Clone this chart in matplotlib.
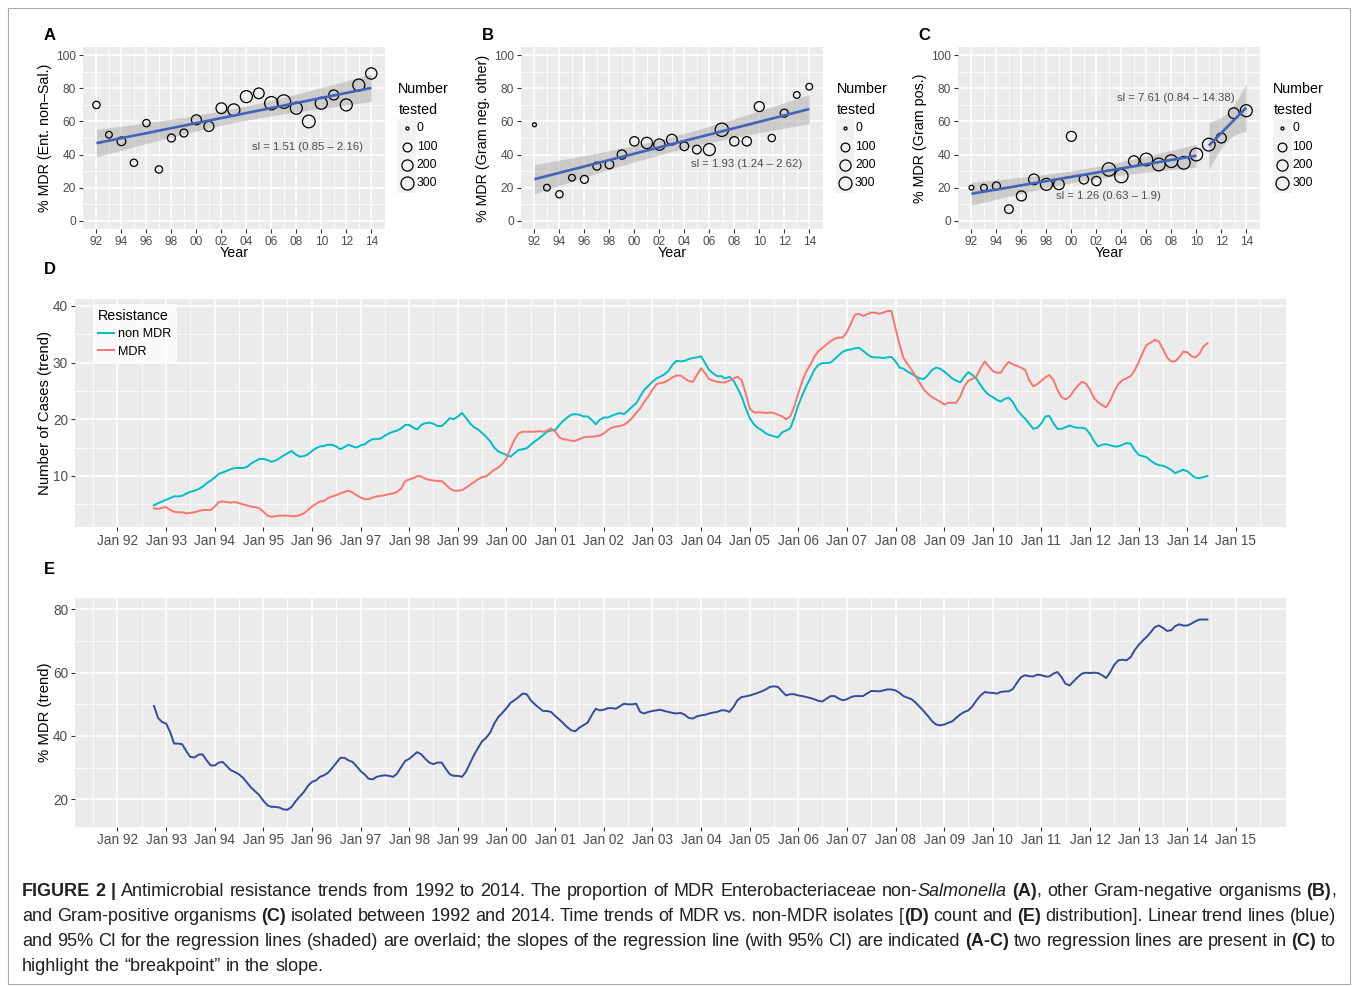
import numpy as np
import pandas as pd
import matplotlib
matplotlib.use('Agg')
import matplotlib.pyplot as plt
import matplotlib.dates as mdates
from matplotlib.lines import Line2D
from matplotlib.patches import Rectangle

plt.rcParams['font.family'] = ['Liberation Sans', 'DejaVu Sans']

# ---- panels A-C: yearly % MDR and number tested ----
years = list(range(1992, 2015))
mdr_ent = [70, 52, 48, 35, 59, 31, 50, 53, 61, 57, 68, 67, 75, 77, 71, 72, 68, 60, 71, 76, 70, 82, 89]
n_ent = [56, 41, 97, 56, 56, 56, 75, 75, 147, 147, 177, 243, 243, 177, 320, 330, 243, 282, 243, 147, 243, 243, 207]
mdr_gneg = [58, 20, 16, 26, 25, 33, 34, 40, 48, 47, 46, 49, 45, 43, 43, 55, 48, 48, 69, 50, 65, 76, 81]
n_gneg = [3, 41, 56, 41, 75, 75, 97, 120, 120, 207, 207, 177, 97, 97, 243, 320, 120, 120, 147, 56, 75, 41, 41]
mdr_gpos = [20, 20, 21, 7, 15, 25, 22, 22, 51, 25, 24, 31, 27, 36, 37, 34, 36, 35, 40, 46, 50, 65, 66.5]
n_gpos = [9, 41, 75, 97, 147, 177, 243, 177, 147, 120, 120, 320, 320, 177, 282, 282, 282, 282, 282, 282, 147, 177, 243]
size_breaks = [0, 100, 200, 300]
fits_ent = [(1992, 2014)]
fits_gneg = [(1992, 2014)]
fits_gpos = [(1992, 2010), (2011, 2014)]
slopes_ent = ['sl = 1.51 (0.85 – 2.16)']
slopes_gneg = ['sl = 1.93 (1.24 – 2.62)']
slopes_gpos = ['sl = 1.26 (0.63 – 1.9)', 'sl = 7.61 (0.84 – 14.38)']

# ---- panels D-E: monthly trends, Oct 1992 - Jun 2014 ----
non_mdr = [
    4.8, 5.2, 5.5,
    5.8, 6.1, 6.4, 6.4, 6.5, 6.9, 7.2, 7.4, 7.7, 8.1, 8.7, 9.2,
    9.7, 10.4, 10.6, 10.9, 11.2, 11.4, 11.4, 11.4, 11.6, 12.2, 12.6, 13.0,
    13.0, 12.8, 12.5, 12.7, 13.1, 13.6, 14.0, 14.4, 13.8, 13.4, 13.5, 13.8,
    14.4, 14.9, 15.2, 15.3, 15.5, 15.5, 15.2, 14.7, 15.1, 15.5, 15.2, 15.0,
    15.4, 15.6, 16.1, 16.5, 16.5, 16.6, 17.1, 17.5, 17.8, 18.0, 18.4, 19.0,
    19.0, 18.5, 18.2, 19.0, 19.3, 19.4, 19.2, 18.8, 18.8, 19.4, 20.2, 20.0,
    20.5, 21.1, 20.3, 19.3, 18.6, 18.2, 17.6, 16.9, 16.1, 15.0, 14.3, 14.0,
    13.7, 13.4, 14.0, 14.6, 14.7, 14.9, 15.5, 16.1, 16.6, 17.2, 17.8, 18.0,
    18.1, 19.0, 19.7, 20.3, 20.8, 20.9, 20.8, 20.5, 20.5, 19.9, 19.1, 19.9,
    20.3, 20.3, 20.6, 20.9, 21.1, 20.9, 21.5, 22.2, 22.8, 24.0, 25.2, 25.9,
    26.6, 27.2, 27.5, 27.9, 28.5, 29.6, 30.3, 30.2, 30.3, 30.6, 30.8, 30.9,
    31.1, 29.9, 28.7, 28.1, 27.6, 27.6, 27.2, 27.5, 26.8, 25.5, 24.0, 22.0,
    20.2, 19.1, 18.5, 18.1, 17.5, 17.2, 17.0, 16.8, 17.7, 18.0, 18.4, 20.2,
    22.5, 24.3, 25.8, 27.2, 28.7, 29.6, 29.9, 29.9, 30.0, 30.6, 31.3, 31.9,
    32.2, 32.3, 32.5, 32.6, 32.1, 31.5, 31.0, 30.9, 30.9, 30.8, 30.9, 31.0,
    30.2, 29.1, 28.9, 28.4, 28.0, 27.6, 27.2, 27.1, 27.8, 28.7, 29.1, 28.9,
    28.4, 27.8, 27.2, 26.8, 26.5, 27.5, 28.3, 27.8, 27.1, 26.0, 25.0, 24.3,
    23.9, 23.4, 23.1, 23.6, 23.8, 23.0, 21.7, 20.8, 20.1, 19.2, 18.3, 18.5,
    19.3, 20.5, 20.6, 19.3, 18.3, 18.3, 18.6, 18.9, 18.6, 18.5, 18.5, 18.3,
    17.4, 16.1, 15.2, 15.5, 15.6, 15.4, 15.2, 15.2, 15.5, 15.8, 15.7, 14.6,
    13.7, 13.5, 13.3, 12.7, 12.2, 11.9, 11.8, 11.5, 11.1, 10.5, 10.8, 11.1,
    10.8, 10.2, 9.7, 9.6, 9.8, 10.0,
]
mdr = [
    4.3, 4.2, 4.4,
    4.5, 4.0, 3.7, 3.6, 3.6, 3.4, 3.5, 3.6, 3.8, 4.0, 4.0, 4.0,
    4.6, 5.4, 5.5, 5.4, 5.3, 5.4, 5.2, 5.0, 4.8, 4.6, 4.5, 4.3,
    3.7, 3.0, 2.8, 2.9, 3.0, 3.0, 3.0, 2.9, 2.9, 3.1, 3.4, 4.0,
    4.6, 5.1, 5.5, 5.6, 6.1, 6.4, 6.6, 6.9, 7.2, 7.4, 7.1, 6.6,
    6.2, 5.9, 5.9, 6.2, 6.4, 6.5, 6.6, 6.8, 6.9, 7.2, 7.8, 9.1,
    9.4, 9.6, 10.0, 9.9, 9.5, 9.3, 9.2, 9.1, 9.1, 8.5, 7.8, 7.4,
    7.4, 7.5, 7.9, 8.4, 8.9, 9.4, 9.8, 9.9, 10.5, 11.1, 11.5, 12.1,
    13.1, 14.9, 16.4, 17.5, 17.8, 17.8, 17.8, 17.8, 17.9, 17.8, 18.0, 18.4,
    17.8, 16.8, 16.5, 16.4, 16.2, 16.2, 16.5, 16.8, 16.9, 16.9, 17.0, 17.1,
    17.5, 18.1, 18.5, 18.7, 18.8, 19.0, 19.5, 20.2, 21.1, 21.9, 23.1, 24.0,
    25.2, 26.2, 26.4, 26.5, 26.9, 27.4, 27.7, 27.7, 27.2, 26.7, 26.6, 27.8,
    29.0, 28.1, 27.1, 26.8, 26.6, 26.5, 26.5, 26.8, 27.2, 27.5, 26.9, 24.6,
    21.9, 21.2, 21.2, 21.2, 21.1, 21.2, 21.1, 20.8, 20.5, 20.0, 20.5, 22.2,
    24.6, 26.8, 28.4, 29.6, 31.0, 32.0, 32.6, 33.2, 33.8, 34.2, 34.4, 34.4,
    35.4, 36.9, 38.4, 38.6, 38.2, 38.5, 38.8, 38.8, 38.6, 38.8, 39.1, 39.1,
    36.0, 33.1, 30.8, 29.7, 28.7, 27.5, 26.4, 25.2, 24.5, 23.9, 23.5, 23.1,
    22.6, 22.9, 22.9, 22.9, 24.0, 25.8, 26.8, 27.1, 27.6, 29.0, 30.2, 29.3,
    28.5, 28.2, 28.2, 29.3, 30.1, 29.7, 29.4, 29.1, 28.7, 26.9, 25.8, 26.2,
    26.8, 27.4, 27.8, 26.9, 25.2, 23.9, 23.5, 24.0, 25.0, 25.9, 26.6, 26.3,
    25.2, 23.7, 23.0, 22.5, 22.1, 23.3, 24.9, 26.2, 26.9, 27.2, 27.6, 28.6,
    30.1, 31.8, 33.1, 33.5, 34.0, 33.7, 32.4, 30.9, 30.2, 30.2, 30.9, 31.9,
    31.8, 31.1, 30.9, 31.5, 32.8, 33.4,
]
pct_mdr = [
    49.5, 45.7, 44.4,
    43.9, 41.1, 37.6, 37.6, 37.4, 35.2, 33.4, 33.2, 34.1, 34.2, 32.3, 30.7,
    30.7, 31.6, 31.8, 30.5, 29.2, 28.6, 27.9, 26.8, 25.2, 23.7, 22.5, 21.3,
    19.5, 18.1, 17.6, 17.6, 17.4, 16.8, 16.7, 17.6, 19.4, 20.9, 22.3, 24.2,
    25.5, 26.0, 27.1, 27.6, 28.4, 29.9, 31.5, 33.1, 33.1, 32.3, 31.8, 30.4,
    28.9, 27.8, 26.5, 26.3, 27.1, 27.4, 27.6, 27.4, 27.1, 28.1, 30.2, 32.1,
    32.8, 33.9, 34.9, 34.2, 32.8, 31.6, 31.1, 31.6, 31.6, 29.7, 27.9, 27.4,
    27.4, 27.1, 28.6, 31.3, 33.9, 36.2, 38.3, 39.4, 41.1, 43.9, 46.0, 47.3,
    48.8, 50.5, 51.3, 52.3, 53.4, 53.2, 51.3, 50.0, 48.9, 47.9, 47.9, 47.6,
    46.3, 45.2, 44.1, 42.8, 41.8, 41.5, 42.6, 43.4, 44.2, 46.5, 48.6, 48.1,
    48.3, 48.8, 48.8, 48.6, 49.4, 50.2, 50.0, 50.0, 50.2, 47.6, 47.1, 47.6,
    47.9, 48.1, 48.3, 47.9, 47.6, 47.3, 47.1, 47.3, 46.7, 45.7, 45.5, 46.2,
    46.5, 46.7, 47.1, 47.4, 47.6, 48.1, 48.1, 47.6, 49.2, 51.3, 52.3, 52.5,
    52.8, 53.2, 53.6, 54.1, 54.7, 55.5, 55.7, 55.5, 54.1, 52.8, 53.2, 53.2,
    52.8, 52.6, 52.3, 52.0, 51.6, 51.1, 50.9, 51.8, 52.6, 52.6, 51.8, 51.3,
    51.6, 52.3, 52.6, 52.6, 52.6, 53.4, 54.2, 54.2, 54.1, 54.4, 54.7, 54.7,
    54.4, 53.6, 52.6, 52.1, 51.6, 50.5, 49.2, 47.8, 46.3, 44.7, 43.6, 43.4,
    43.6, 44.2, 44.6, 45.7, 46.8, 47.6, 48.1, 49.4, 51.3, 52.8, 53.9, 53.7,
    53.6, 53.4, 53.9, 54.1, 54.1, 54.9, 56.8, 58.6, 59.2, 58.9, 58.8, 59.4,
    59.2, 58.8, 58.8, 59.7, 60.2, 58.6, 56.5, 56.0, 57.3, 58.6, 59.7, 60.0,
    59.9, 60.0, 59.9, 59.2, 58.3, 60.2, 62.5, 63.9, 64.1, 63.9, 64.9, 67.1,
    68.8, 70.2, 71.3, 72.8, 74.4, 74.9, 74.2, 73.2, 73.4, 74.7, 75.3, 74.9,
    74.9, 75.5, 76.2, 76.8, 76.8, 76.8,
]
dates = pd.date_range('1992-10-01', periods=len(non_mdr), freq='MS')
year_ticks = pd.date_range('1992-01-01', '2015-01-01', freq='YS')

W, H = 1357, 986
BLUE = '#4463B8'
TEAL = '#00BFC4'
RED = '#F8766D'
T975 = {21: 2.080, 17: 2.110, 2: 4.303}  # t quantiles for the CI


def box(l, t, r, b):
    return [l / W, 1 - b / H, (r - l) / W, (b - t) / H]


def fx(x):
    return x / W


def fy(y):
    return 1 - y / H


def diam(n):
    # ggplot area scale: 0 -> 3 px, 300 -> 13 px
    return 3 + 10 * np.sqrt(np.asarray(n, float) / 300)


def gg(ax, tick_size):
    ax.set_facecolor('#EBEBEB')
    for s in ax.spines.values():
        s.set_visible(False)
    ax.grid(which='major', color='white', lw=1.1)
    ax.grid(which='minor', color='white', lw=0.55)
    ax.set_axisbelow(True)
    ax.tick_params(which='major', length=3, width=0.8, color='#333333',
                   labelcolor='#4D4D4D', labelsize=tick_size, pad=2)
    ax.tick_params(which='minor', length=0)


def add_fit(ax, x, y, lo, hi):
    x = np.asarray(x, float)
    y = np.asarray(y, float)
    m = (x >= lo) & (x <= hi)
    xs, ys = x[m], y[m]
    b, a = np.polyfit(xs, ys, 1)
    n = len(xs)
    s = np.sqrt(((ys - (a + b * xs)) ** 2).sum() / (n - 2))
    xx = np.linspace(lo, hi, 80)
    se = s * np.sqrt(1 / n + (xx - xs.mean()) ** 2 / ((xs - xs.mean()) ** 2).sum())
    fit = a + b * xx
    t = T975[n - 2]
    ax.fill_between(xx, fit - t * se, fit + t * se, color='#999999', alpha=0.4, lw=0, zorder=3)
    ax.plot(xx, fit, color=BLUE, lw=1.9, zorder=5, solid_capstyle='butt')


fig = plt.figure(figsize=(W / 100, H / 100), dpi=100)
fig.patch.set_facecolor('white')
fig.add_artist(Rectangle((fx(7.5), fy(984)), (1349.5 - 7.5) / W, (984 - 7.5) / H,
                         transform=fig.transFigure, facecolor='none', edgecolor='#AAAAAA', lw=0.8))

scatter_panels = [
    ('A', 82.7, mdr_ent, n_ent, fits_ent, slopes_ent, [(2008.9, 44.5)], '% MDR (Ent. non–Sal.)', 45, 398.3, 406.7),
    ('B', 520.7, mdr_gneg, n_gneg, fits_gneg, slopes_gneg, [(2009.0, 34.1)], '% MDR (Gram neg. other)', 483.3, 836.7, 845.0),
    ('C', 957.7, mdr_gpos, n_gpos, fits_gpos, slopes_gpos, [(2003.0, 15.0), (2008.4, 74.4)], '% MDR (Gram pos.)', 920, 1273.3, 1282.3),
]
for letter, left, vals, ns, fits, slopes, spos, ylab, ylab_x, leg_x, key_x in scatter_panels:
    right = left + 302.3
    ax = fig.add_axes(box(left, 47, right, 229))
    gg(ax, 8.6)
    ax.set_xlim(1990.9, 2015.1)
    ax.set_ylim(-5, 105)
    ax.set_xticks(years[::2])
    ax.set_xticklabels([f'{y % 100:02d}' for y in years[::2]])
    ax.set_xticks(years[1::2], minor=True)
    ax.set_yticks([0, 20, 40, 60, 80, 100])
    ax.set_yticks([10, 30, 50, 70, 90], minor=True)
    ax.scatter(years, vals, s=(diam(ns) * 0.72) ** 2, facecolors='none',
               edgecolors='black', linewidths=0.9, zorder=4)
    for lo, hi in fits:
        add_fit(ax, years, vals, lo, hi)
    for txt, (sx, sy) in zip(slopes, spos):
        ax.text(sx, sy, txt, fontsize=8.2, color='#4D4D4D', ha='center', va='center', zorder=6)
    fig.text(fx(ylab_x), fy(138), ylab, rotation=90, fontsize=10.3, ha='center', va='center')
    fig.text(fx((left + right) / 2), fy(253.3), 'Year', fontsize=10.3, ha='center', va='center')
    fig.text(fx(left - 33), fy(36), letter, fontsize=12, fontweight='bold', ha='center', va='center')
    # size legend
    fig.text(fx(leg_x), fy(89.3), 'Number', fontsize=10.3, ha='left', va='center')
    fig.text(fx(leg_x), fy(110), 'tested', fontsize=10.3, ha='left', va='center')
    for nb, yk in zip(size_breaks, [128.3, 146.7, 165.0, 183.3]):
        fig.add_artist(Rectangle((fx(key_x - 9.5), fy(yk + 9.2)), 19 / W, 18.4 / H,
                                 transform=fig.transFigure, facecolor='#F2F2F2', edgecolor='none'))
        fig.add_artist(Line2D([fx(key_x)], [fy(yk)], marker='o', ms=float(diam(nb)) * 0.72,
                              mfc='none', mec='black', mew=0.9, transform=fig.transFigure))
        fig.text(fx(key_x + 10), fy(yk), str(nb), fontsize=8.8, ha='left', va='center')


def date_axis(ax):
    ax.set_xlim(pd.Timestamp('1991-02-16'), pd.Timestamp('2016-01-12'))
    ax.set_xticks(year_ticks)
    ax.xaxis.set_major_formatter(mdates.DateFormatter('%b %y'))
    ax.xaxis.set_minor_locator(mdates.MonthLocator(bymonth=7))


# ---- D ----
ax_d = fig.add_axes(box(75, 299, 1286, 527))
gg(ax_d, 9.8)
date_axis(ax_d)
ax_d.set_ylim(1.0, 41.2)
ax_d.set_yticks([10, 20, 30, 40])
ax_d.set_yticks([5, 15, 25, 35], minor=True)
ax_d.plot(dates, non_mdr, color=TEAL, lw=1.4, label='non MDR')
ax_d.plot(dates, mdr, color=RED, lw=1.4, label='MDR')
leg = ax_d.legend(loc='upper left', bbox_to_anchor=(fx(92.5), fy(304)), bbox_transform=fig.transFigure,
                  title='Resistance', fontsize=9.1, title_fontsize=10.3, frameon=True, fancybox=False,
                  borderpad=0.4, handlelength=1.3, handletextpad=0.35, labelspacing=0.42,
                  borderaxespad=0, alignment='left')
leg.get_frame().set_facecolor('white')
leg.get_frame().set_edgecolor('none')
fig.text(fx(45), fy(413), 'Number of Cases (trend)', rotation=90, fontsize=10.7, ha='center', va='center')
fig.text(fx(50), fy(270), 'D', fontsize=12, fontweight='bold', ha='center', va='center')

# ---- E ----
ax_e = fig.add_axes(box(75, 598, 1286, 826.5))
gg(ax_e, 9.8)
date_axis(ax_e)
ax_e.set_ylim(11.4, 83.6)
ax_e.set_yticks([20, 40, 60, 80])
ax_e.set_yticks([30, 50, 70], minor=True)
ax_e.plot(dates, pct_mdr, color='#354B9C', lw=1.4)
fig.text(fx(45), fy(712), '% MDR (trend)', rotation=90, fontsize=10.7, ha='center', va='center')
fig.text(fx(49), fy(570), 'E', fontsize=12, fontweight='bold', ha='center', va='center')

# ---- caption ----
cap_lines = [
    "**FIGURE 2 |** Antimicrobial resistance trends from 1992 to 2014. The proportion of MDR Enterobacteriaceae non-_Salmonella_ **(A)**, other Gram-negative organisms **(B)**,",
    "and Gram-positive organisms **(C)** isolated between 1992 and 2014. Time trends of MDR vs. non-MDR isolates [**(D)** count and **(E)** distribution]. Linear trend lines (blue)",
    "and 95% CI for the regression lines (shaded) are overlaid; the slopes of the regression line (with 95% CI) are indicated **(A-C)** two regression lines are present in **(C)** to",
    "highlight the “breakpoint” in the slope.",
]
CAP_SIZE = 13.0
CAP_LEFT, CAP_RIGHT = 22, 1336
renderer = fig.canvas.get_renderer()


def parse(line):
    words, runs, buf = [], [], ''
    bold = ital = False
    i = 0
    while i < len(line):
        if line.startswith('**', i):
            if buf:
                runs.append((buf, bold, ital))
                buf = ''
            bold = not bold
            i += 2
            continue
        c = line[i]
        if c == '_' or c == ' ':
            if buf:
                runs.append((buf, bold, ital))
                buf = ''
            if c == '_':
                ital = not ital
            else:
                words.append(runs)
                runs = []
        else:
            buf += c
        i += 1
    if buf:
        runs.append((buf, bold, ital))
    words.append(runs)
    return words


def width(t):
    return t.get_window_extent(renderer=renderer).width


t1 = fig.text(0, 0, 'a a', fontsize=CAP_SIZE)
t2 = fig.text(0, 0, 'aa', fontsize=CAP_SIZE)
space_w = width(t1) - width(t2)
t1.remove()
t2.remove()

for k, line in enumerate(cap_lines):
    y = 896 + 25 * k
    placed = []
    total = 0
    for word in parse(line):
        arts = []
        for txt, bold, ital in word:
            t = fig.text(0, fy(y), txt, fontsize=CAP_SIZE, color='#231F20',
                         fontweight='bold' if bold else 'normal',
                         fontstyle='italic' if ital else 'normal', ha='left', va='baseline')
            arts.append((t, width(t)))
            total += arts[-1][1]
        placed.append(arts)
    if k < len(cap_lines) - 1:
        gap = (CAP_RIGHT - CAP_LEFT - total) / (len(placed) - 1)
    else:
        gap = space_w
    x = CAP_LEFT
    for arts in placed:
        for t, w in arts:
            t.set_x(fx(x))
            x += w
        x += gap

fig.savefig('out.png', dpi=100)
